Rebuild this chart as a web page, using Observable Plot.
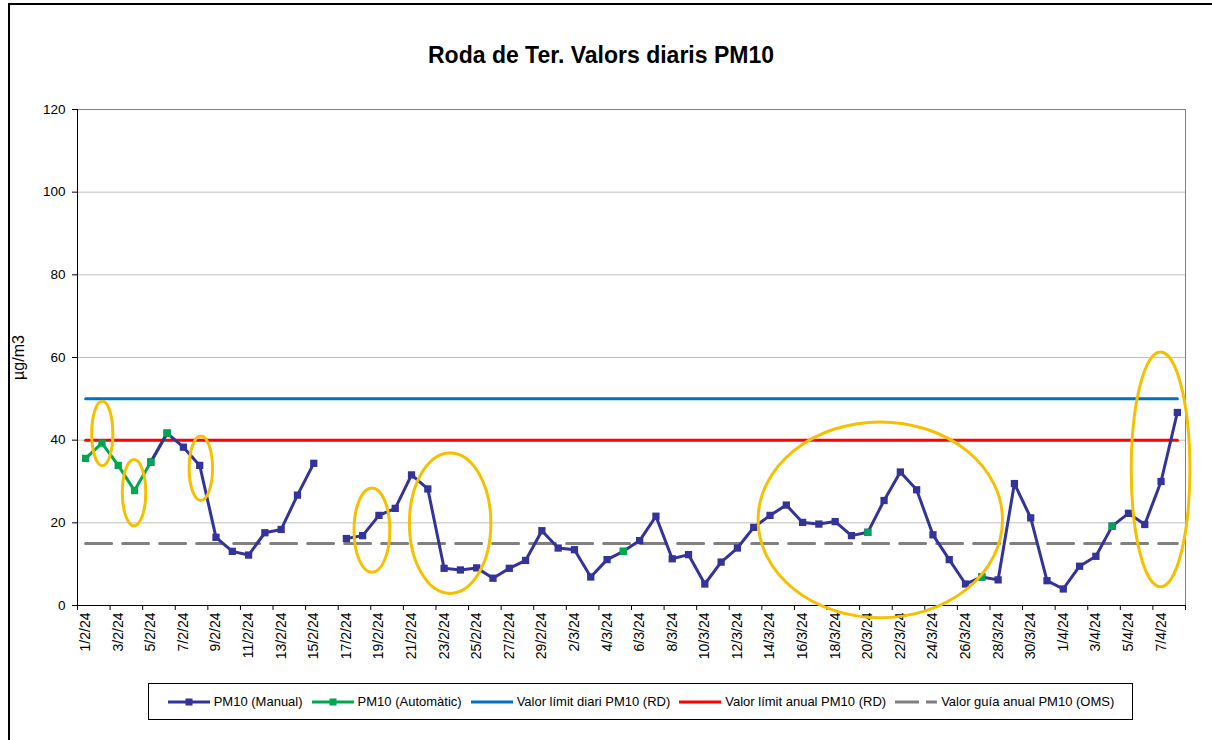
<!DOCTYPE html>
<html><head><meta charset="utf-8">
<script src="https://cdn.jsdelivr.net/npm/d3@7"></script>
<script src="https://cdn.jsdelivr.net/npm/@observablehq/plot@0.6"></script>
<style>
body{margin:0;background:#fff;font-family:"Liberation Sans",Arial,sans-serif;width:1212px;height:740px;overflow:hidden;position:relative;}
#frame{position:absolute;left:8px;top:3px;width:1220px;height:760px;border:2px solid #000;box-sizing:border-box;}
#title{position:absolute;left:0;top:42px;width:1202px;text-align:center;font-weight:bold;font-size:23px;color:#000;}
#chart{position:absolute;left:0;top:100px;}
#legend{position:absolute;left:148px;top:683px;width:985px;height:37px;border:1px solid #000;box-sizing:border-box;display:flex;align-items:center;justify-content:center;gap:8px;font-size:13px;color:#000;background:#fff;}
.item{display:flex;align-items:center;gap:3px;white-space:nowrap;}
</style></head>
<body>
<div id="frame"></div>
<div id="title">Roda de Ter. Valors diaris PM10</div>
<div id="chart"></div>
<div id="legend"></div>
<script>
const dates = ["1/2/24","2/2/24","3/2/24","4/2/24","5/2/24","6/2/24","7/2/24","8/2/24","9/2/24","10/2/24",
"11/2/24","12/2/24","13/2/24","14/2/24","15/2/24","16/2/24","17/2/24","18/2/24","19/2/24","20/2/24",
"21/2/24","22/2/24","23/2/24","24/2/24","25/2/24","26/2/24","27/2/24","28/2/24","29/2/24","1/3/24",
"2/3/24","3/3/24","4/3/24","5/3/24","6/3/24","7/3/24","8/3/24","9/3/24","10/3/24","11/3/24",
"12/3/24","13/3/24","14/3/24","15/3/24","16/3/24","17/3/24","18/3/24","19/3/24","20/3/24","21/3/24",
"22/3/24","23/3/24","24/3/24","25/3/24","26/3/24","27/3/24","28/3/24","29/3/24","30/3/24","31/3/24",
"1/4/24","2/4/24","3/4/24","4/4/24","5/4/24","6/4/24","7/4/24","8/4/24"];

const pm10Manual = [null,null,null,null,34.7,41.7,38.3,33.9,16.5,13.1,
12.2,17.6,18.4,26.7,34.4,null,16.2,16.9,21.8,23.5,
31.6,28.2,9.0,8.6,9.1,6.6,9.0,10.9,18.1,13.9,
13.5,6.9,11.1,13.1,15.7,21.6,11.3,12.3,5.2,10.5,
13.9,18.9,21.8,24.3,20.1,19.7,20.3,16.9,17.7,25.4,
32.3,28.0,17.1,11.1,5.2,6.9,6.2,29.5,21.2,6.0,
4.0,9.5,11.9,19.2,22.3,19.6,30.0,46.7];

const pm10Auto = [35.6,39.3,33.9,27.8,34.7,41.7,null,null,null,null,
null,null,null,null,null,null,null,null,null,null,
null,null,null,null,null,null,null,null,null,null,
null,null,null,13.1,null,null,null,null,null,null,
null,null,null,null,null,null,null,null,17.7,null,
null,null,null,null,null,6.9,null,null,null,null,
null,null,null,19.2,null,null,null,null];

const dailyLimit = 50;   // Valor límit diari PM10 (RD)
const annualLimit = 40;  // Valor límit anual PM10 (RD)
const whoGuide = 15;     // Valor guía anual PM10 (OMS)
const yTicks = [0,20,40,60,80,100,120];
const yLabel = "µg/m3";

// highlight ellipses (centre day index, centre value, half-width in days, half-height in µg/m3)
const hlDay   = [1.05, 3.0, 7.1, 17.6, 22.4, 48.8, 66.0];
const hlValue = [41.5, 27.2, 33.1, 18.1, 19.8, 20.6, 32.8];
const hlHalfW = [0.65, 0.72, 0.72, 1.1, 2.5, 7.5, 1.8];
const hlHalfH = [7.8, 8.0, 7.8, 10.2, 17.0, 23.7, 28.4];

const C_MAN = "#333399", C_AUT = "#00a651", C_DAY = "#0070c0", C_ANN = "#ff0000", C_WHO = "#808080", C_HL = "#f5c000";

const rows = dates.map((d, i) => ({i, date: d, manual: pm10Manual[i], auto: pm10Auto[i],
  daily: dailyLimit, annual: annualLimit, who: whoGuide}));
const n = dates.length;
const labelIdx = d3.range(0, n, 2);
const boundaries = d3.range(-0.5, n, 2);

const plot = Plot.plot({
  width: 1212, height: 580,
  marginLeft: 77, marginRight: 27, marginTop: 9, marginBottom: 75,
  style: {fontFamily: "'Liberation Sans', Arial, sans-serif", fontSize: "13.5px", color: "#000", background: "transparent", overflow: "visible"},
  x: {type: "linear", domain: [-0.5, n - 0.5]},
  y: {domain: [0, 120]},
  marks: [
    Plot.gridY(yTicks, {stroke: "#bfbfbf", strokeOpacity: 1, strokeWidth: 1}),
    Plot.ruleY([120], {stroke: "#808080"}),
    Plot.ruleX([n - 0.5], {stroke: "#808080"}),
    Plot.axisY({ticks: yTicks, tickSize: 5, tickPadding: 7, label: null, fontSize: 13.5}),
    Plot.text([yLabel], {frameAnchor: "left", textAnchor: "middle", dx: -59, rotate: -90, fontSize: 16, fill: "#000"}),
    Plot.axisX({ticks: boundaries, tickSize: 5, tickFormat: () => "", label: null}),
    Plot.axisX({ticks: labelIdx, tickSize: 0, tickPadding: 7, tickRotate: -90, tickFormat: i => dates[i], label: null, fontSize: 14}),
    Plot.ruleX([-0.5], {stroke: "#000"}),
    Plot.ruleY([0], {stroke: "#000"}),
    Plot.line(rows, {x: "i", y: "daily", stroke: C_DAY, strokeWidth: 3}),
    Plot.line(rows, {x: "i", y: "annual", stroke: C_ANN, strokeWidth: 3}),
    Plot.line(rows, {x: "i", y: "who", stroke: C_WHO, strokeWidth: 3, strokeDasharray: "26,11"}),
    Plot.line(rows, {x: "i", y: "auto", stroke: C_AUT, strokeWidth: 3}),
    Plot.line(rows, {x: "i", y: "manual", stroke: C_MAN, strokeWidth: 3}),
    Plot.dot(rows, {x: "i", y: "manual", symbol: "square", r: 4.1, fill: C_MAN, stroke: "none"}),
    Plot.dot(rows, {x: "i", y: "auto", symbol: "square", r: 4.1, fill: C_AUT, stroke: "none"})
  ]
});
document.getElementById("chart").appendChild(plot);

// yellow highlight ellipses, positioned through the plot's own scales
const sx = plot.scale("x"), sy = plot.scale("y");
const ns = "http://www.w3.org/2000/svg";
hlDay.forEach((d, k) => {
  const cx = sx.apply(d), cy = sy.apply(hlValue[k]);
  const rx = sx.apply(d + hlHalfW[k]) - cx;
  const ry = sy.apply(hlValue[k] - hlHalfH[k]) - cy;
  const e = document.createElementNS(ns, "ellipse");
  e.setAttribute("cx", cx); e.setAttribute("cy", cy);
  e.setAttribute("rx", rx); e.setAttribute("ry", ry);
  e.setAttribute("fill", "none"); e.setAttribute("stroke", C_HL); e.setAttribute("stroke-width", 3);
  plot.appendChild(e);
});

// legend
const legendItems = [
  {label: "PM10 (Manual)", color: C_MAN, marker: true, dash: null},
  {label: "PM10 (Automàtic)", color: C_AUT, marker: true, dash: null},
  {label: "Valor límit diari PM10 (RD)", color: C_DAY, marker: false, dash: null},
  {label: "Valor límit anual PM10 (RD)", color: C_ANN, marker: false, dash: null},
  {label: "Valor guía anual PM10 (OMS)", color: C_WHO, marker: false, dash: "24,7"}
];
const lg = document.getElementById("legend");
legendItems.forEach(it => {
  const div = document.createElement("div"); div.className = "item";
  let s = `<svg width="44" height="10"><line x1="1" y1="5" x2="43" y2="5" stroke="${it.color}" stroke-width="3"${it.dash ? ` stroke-dasharray="${it.dash}"` : ""}/>`;
  if (it.marker) s += `<rect x="18.5" y="1.5" width="7" height="7" fill="${it.color}"/>`;
  s += `</svg>`;
  div.innerHTML = s + `<span>${it.label}</span>`;
  lg.appendChild(div);
});
</script>
</body></html>
